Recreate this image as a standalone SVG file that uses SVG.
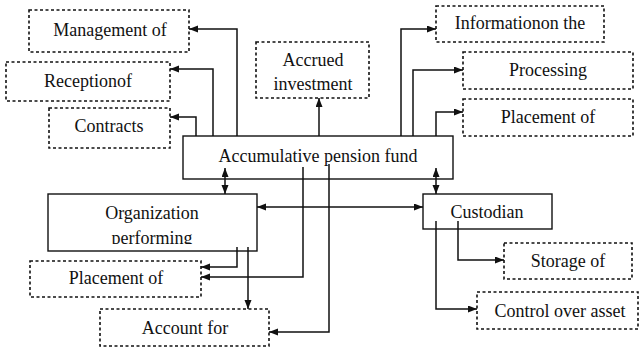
<svg xmlns="http://www.w3.org/2000/svg" width="639" height="349" viewBox="0 0 639 349">
<style>
text{font-family:"Liberation Serif","DejaVu Serif",serif;font-size:18px;fill:#111;text-anchor:middle}
.s{fill:#fff;stroke:#111;stroke-width:1.4}
.d{fill:#fff;stroke:#111;stroke-width:1.6;stroke-dasharray:3 2.5}
.c path{fill:none;stroke:#111;stroke-width:1.5}
</style>
<defs>
<marker id="a" markerUnits="userSpaceOnUse" markerWidth="10" markerHeight="8" refX="9" refY="3.5" orient="auto-start-reverse"><path d="M0,0 L9,3.5 L0,7 z" fill="#111"/></marker>
<clipPath id="cp"><rect x="40" y="190" width="230" height="54"/></clipPath>
</defs>
<rect width="639" height="349" fill="#fff"/>
<g id="management"><rect class="d" x="29" y="10" width="160" height="42"/><text x="110" y="36">Management of</text></g>
<g id="reception"><rect class="d" x="6" y="62" width="164" height="39"/><text x="88" y="87">Receptionof</text></g>
<g id="contracts"><rect class="d" x="49" y="108" width="121" height="40"/><text x="109" y="132">Contracts</text></g>
<g id="accrued"><rect class="d" x="256" y="42" width="113" height="56"/><text x="313" y="66">Accrued</text><text x="313" y="90">investment</text></g>
<g id="information"><rect class="d" x="436" y="6" width="168" height="36"/><text x="520" y="29">Informationon the</text></g>
<g id="processing"><rect class="d" x="463" y="52" width="170" height="37"/><text x="548" y="76">Processing</text></g>
<g id="placement-right"><rect class="d" x="463" y="99" width="170" height="37"/><text x="548" y="123">Placement of</text></g>
<g id="fund"><rect class="s" x="183" y="136" width="270" height="43"/><text x="318" y="162">Accumulative pension fund</text></g>
<g id="organization"><rect class="s" x="48" y="194" width="209" height="57"/><text x="152" y="219">Organization</text><text x="152" y="244" clip-path="url(#cp)">performing</text></g>
<g id="custodian"><rect class="s" x="423" y="194" width="129" height="35"/><text x="487" y="218">Custodian</text></g>
<g id="placement-left"><rect class="d" x="30" y="261" width="171" height="36"/><text x="116" y="284">Placement of</text></g>
<g id="account"><rect class="d" x="100" y="309" width="169" height="37"/><text x="185" y="334">Account for</text></g>
<g id="storage"><rect class="d" x="504" y="243" width="128" height="36"/><text x="568" y="267">Storage of</text></g>
<g id="control"><rect class="d" x="477" y="292" width="161" height="37"/><text x="560" y="317">Control over asset</text></g>
<g class="c" id="connectors">
<path d="M237,136 V29 H189" marker-end="url(#a)"/>
<path d="M213,136 V69 H170" marker-end="url(#a)"/>
<path d="M196,136 V117 H170" marker-end="url(#a)"/>
<path d="M319,136 V98" marker-end="url(#a)"/>
<path d="M401,136 V29 H436" marker-end="url(#a)"/>
<path d="M413,136 V70 H463" marker-end="url(#a)"/>
<path d="M436,136 V112 H463" marker-end="url(#a)"/>
<path d="M225,168 V194" marker-start="url(#a)" marker-end="url(#a)"/>
<path d="M436,168 V194" marker-start="url(#a)" marker-end="url(#a)"/>
<path d="M303,167 V277 H201" marker-end="url(#a)"/>
<path d="M329,164 V332 H269" marker-end="url(#a)"/>
<path d="M257,207 H423" marker-start="url(#a)" marker-end="url(#a)"/>
<path d="M237,247 V267 H201" marker-end="url(#a)"/>
<path d="M248,247 V309" marker-end="url(#a)"/>
<path d="M458,221 V260 H504" marker-end="url(#a)"/>
<path d="M436,221 V309 H477" marker-end="url(#a)"/>
</g>
</svg>
